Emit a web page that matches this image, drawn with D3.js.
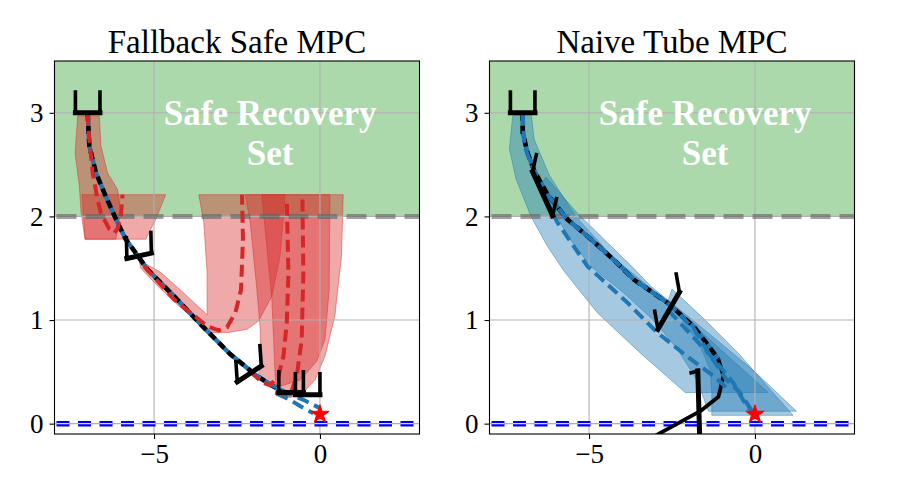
<!DOCTYPE html>
<html>
<head>
<meta charset="utf-8">
<script src="https://cdn.jsdelivr.net/npm/d3@7"></script>
<style>
    body { margin: 0; background: #fff; }
    svg { font-family: "Liberation Serif", "Times New Roman", serif; }
</style>
</head>
<body>
<div id="stage"></div>
<script>
var xDomain = [-8, 3];
var yDomain = [-0.1, 3.5];
var xTicks = [-5, 0];
var yTicks = [0, 1, 2, 3];
var panelTitles = ['Fallback Safe MPC', 'Naive Tube MPC'];
var safeSetLines = ['Safe Recovery', 'Set'];
var safeSetFloor = 2;
var groundLevel = 0;
var goal = [0, 0.09];

// left panel: fallback safe MPC
var leftTrajectory = [[-7.0, 3.0], [-6.95, 2.68], [-6.75, 2.42], [-6.45, 2.19], [-6.1, 1.94], [-5.85, 1.78],
    [-5.2, 1.49], [-4.4, 1.23], [-3.6, 0.96], [-2.7, 0.67], [-1.9, 0.46], [-1.1, 0.30], [-0.9, 0.28]];
var leftTubes = [
    [[-7.3, 2.97], [-6.65, 2.97], [-6.6, 2.68], [-6.4, 2.42], [-6.1, 2.26], [-6.0, 2.05], [-6.15, 1.78],
        [-7.08, 1.78], [-7.2, 2.04], [-7.25, 2.29], [-7.38, 2.61]],
    [[-7.17, 2.21], [-4.65, 2.21], [-4.95, 1.97], [-5.25, 1.78], [-7.08, 1.78]],
    [[-5.45, 1.58], [-4.8, 1.46], [-4.0, 1.23], [-3.4, 1.05], [-3.4, 1.45], [-3.5, 1.94], [-3.65, 2.21],
        [-1.05, 2.21], [-1.1, 2.0], [-1.2, 1.62], [-1.45, 1.23], [-1.85, 0.99], [-2.2, 0.91], [-2.75, 0.88],
        [-3.3, 0.88], [-4.2, 1.12], [-4.9, 1.33], [-5.4, 1.5]],
    [[-2.25, 2.21], [0.3, 2.21], [0.28, 1.3], [0.15, 0.81], [-0.1, 0.6], [-0.6, 0.42], [-1.2, 0.36],
        [-1.6, 0.37], [-1.9, 0.44], [-1.78, 0.55], [-1.8, 0.91], [-1.9, 1.29], [-2.1, 1.94]],
    [[-1.75, 2.21], [0.7, 2.21], [0.65, 1.62], [0.45, 1.04], [0.15, 0.65], [-0.15, 0.42], [-0.5, 0.3],
        [-0.9, 0.25], [-1.3, 0.3], [-1.35, 0.46], [-1.4, 0.84], [-1.45, 1.2]]
];
var leftFallbacks = [
    [[-7, 3], [-6.95, 2.74], [-6.85, 2.42], [-6.7, 2.16], [-6.6, 2.03], [-6.35, 1.88], [-6.2, 1.84],
        [-6.1, 1.88], [-6.0, 2.0], [-5.95, 2.21]],
    [[-5.3, 1.52], [-4.4, 1.2], [-3.4, 0.94], [-3.05, 0.9], [-2.8, 0.93], [-2.55, 1.07], [-2.38, 1.29],
        [-2.32, 1.78], [-2.35, 2.21]],
    [[-2.1, 0.5], [-1.75, 0.4], [-1.5, 0.37], [-1.25, 0.46], [-1.1, 0.65], [-1.0, 0.97], [-0.95, 1.45], [-1.0, 2.15]],
    [[-1.35, 0.3], [-1.1, 0.28], [-0.85, 0.32], [-0.7, 0.46], [-0.55, 0.81], [-0.5, 1.45], [-0.53, 2.21]]
];
var leftNominals = [
    [[-2.1, 0.5], [-1.5, 0.38], [-1.0, 0.3], [-0.5, 0.23], [0, 0.15]],
    [[-1.3, 0.29], [-0.9, 0.23], [-0.6, 0.17], [-0.2, 0.1]]
];
var leftDrones = [[-7, 3, 0], [-5.45, 1.62, 4], [-2.13, 0.48, 12], [-0.87, 0.3, 0], [-0.37, 0.28, 0]];

// right panel: naive tube MPC
var rightTrajectory = [[-7.0, 3.0], [-7.0, 2.81], [-6.85, 2.61], [-6.65, 2.44], [-6.25, 2.21], [-5.65, 1.97],
    [-5.05, 1.81], [-4.25, 1.58], [-3.65, 1.39], [-2.65, 1.17], [-1.85, 0.94], [-1.35, 0.73], [-1.1, 0.62]];
var rightCrash = [[-1.1, 0.62], [-0.95, 0.46], [-1.1, 0.26], [-1.65, 0.12], [-2.85, -0.09], [-3.4, -0.19]];
var rightTubes = [
    [[-7.3, 2.97], [-6.75, 3.0], [-6.65, 2.74], [-6.2, 2.4], [-5.4, 2.0], [-4.26, 1.6], [-3.0, 1.27],
        [-1.5, 0.85], [0.4, 0.3], [-2.1, 0.3], [-3.45, 0.68], [-4.75, 1.07], [-5.75, 1.47], [-6.25, 1.71],
        [-6.75, 2.0], [-7.2, 2.36], [-7.4, 2.65]],
    [[-6.45, 2.3], [-6.3, 2.38], [-5.35, 2.03], [-4.55, 1.78], [-3.75, 1.53], [-3.15, 1.33], [-1.5, 0.9],
        [0.0, 0.5], [1.25, 0.12], [-1.4, 0.12], [-1.75, 0.42], [-2.3, 0.7], [-3.0, 0.98], [-3.95, 1.26],
        [-4.95, 1.52], [-5.65, 1.81]],
    [[-2.65, 1.15], [-2.5, 1.3], [-1.5, 1.0], [-0.5, 0.68], [0.4, 0.35], [1.15, 0.08], [-1.3, 0.08],
        [-1.3, 0.3], [-1.35, 0.52], [-1.65, 0.75], [-2.35, 1.08]]
];
var rightNominals = [
    [[-7, 3], [-6.95, 2.68], [-6.45, 2.26], [-5.95, 1.94], [-5.05, 1.52], [-3.85, 1.17], [-2.95, 0.88],
        [-2.05, 0.65], [-1.25, 0.46], [-0.8, 0.33]],
    [[-6.25, 2.21], [-5.65, 1.97], [-5.05, 1.81], [-4.25, 1.58], [-3.65, 1.39], [-2.65, 1.17], [-1.85, 0.92],
        [-1.35, 0.66], [-0.85, 0.42], [-0.45, 0.3], [-0.25, 0.2], [-0.05, 0.1]],
    [[-2.6, 1.09], [-1.9, 0.85], [-1.15, 0.59], [-0.65, 0.39], [-0.25, 0.17], [0, 0.09]]
];
var rightDrones = [[-7, 3, 0], [-6.4, 2.22, -35], [-2.6, 1.09, 29], [-1.69, 0.14, 95]];
</script>
<script>
(function(d3) {
    'use strict';

    var panelLefts = [54.5, 489.5],
        panelTop = 61,
        panelWidth = 365,
        panelHeight = 373,
        droneHalf = 0.37,
        droneArm = 0.2,
        labelBaselines = [2.885, 2.5],
        svg,
        x,
        y,
        line,
        panels;

    svg = d3.select('#stage')
        .append('svg')
        .attr('width', 900)
        .attr('height', 500);

    x = d3.scaleLinear().domain(xDomain).range([0, panelWidth]);
    y = d3.scaleLinear().domain(yDomain).range([panelHeight, 0]);

    line = d3.line()
        .x(function(d) { return x(d[0]); })
        .y(function(d) { return y(d[1]); });

    panels = [
        { title: panelTitles[0], tubes: leftTubes, tubeColor: '#d62728', trajectory: leftTrajectory,
          dashed: [{ paths: leftNominals, color: '#1f77b4' }, { paths: leftFallbacks, color: '#d62728' }],
          drones: leftDrones, crash: null },
        { title: panelTitles[1], tubes: rightTubes, tubeColor: '#1f77b4', trajectory: rightTrajectory,
          dashed: [{ paths: rightNominals, color: '#1f77b4' }],
          drones: rightDrones, crash: rightCrash }
    ];

    function droneParts(d) {
        var t = d[2] * Math.PI / 180;
        function p(u, v) {
            return [d[0] + Math.cos(t) * u - Math.sin(t) * v, d[1] + Math.sin(t) * u + Math.cos(t) * v];
        }
        return {
            body: [p(-droneHalf, 0), p(droneHalf, 0)],
            arms: [[p(-droneHalf, droneArm), p(-droneHalf, 0)], [p(droneHalf, 0), p(droneHalf, droneArm)]]
        };
    }

    panels.forEach(function(panel, i) {
        var g, plot, clipId = 'clip' + i;

        g = svg.append('g')
            .attr('transform', 'translate(' + panelLefts[i] + ',' + panelTop + ')');

        g.append('clipPath')
            .attr('id', clipId)
            .append('rect')
            .attr('width', panelWidth)
            .attr('height', panelHeight);

        plot = g.append('g').attr('clip-path', 'url(#' + clipId + ')');

        // safe recovery set
        plot.append('rect')
            .attr('x', 0)
            .attr('y', y(yDomain[1]))
            .attr('width', panelWidth)
            .attr('height', y(safeSetFloor) - y(yDomain[1]))
            .style('fill', '#2ca02c')
            .style('fill-opacity', 0.4);

        plot.selectAll('.tube')
            .data(panel.tubes)
            .enter()
            .append('path')
            .attr('class', 'tube')
            .attr('d', function(d) { return line(d) + 'Z'; })
            .style('fill', panel.tubeColor)
            .style('fill-opacity', 0.4)
            .style('stroke', panel.tubeColor)
            .style('stroke-opacity', 0.45)
            .style('stroke-width', 1);

        // grid sits above patches, below lines
        plot.selectAll('.gx')
            .data(xTicks)
            .enter()
            .append('line')
            .attr('x1', function(d) { return x(d); })
            .attr('x2', function(d) { return x(d); })
            .attr('y1', 0)
            .attr('y2', panelHeight)
            .style('stroke', '#b0b0b0')
            .style('stroke-width', 1.1);

        plot.selectAll('.gy')
            .data(yTicks)
            .enter()
            .append('line')
            .attr('x1', 0)
            .attr('x2', panelWidth)
            .attr('y1', function(d) { return y(d); })
            .attr('y2', function(d) { return y(d); })
            .style('stroke', '#b0b0b0')
            .style('stroke-width', 1.1);

        plot.append('line')
            .attr('x1', 2).attr('x2', panelWidth)
            .attr('y1', y(safeSetFloor)).attr('y2', y(safeSetFloor))
            .style('stroke', '#606060')
            .style('stroke-opacity', 0.6)
            .style('stroke-width', 5)
            .style('stroke-dasharray', '20,9');

        plot.append('line')
            .attr('x1', 2).attr('x2', panelWidth - 6)
            .attr('y1', y(groundLevel)).attr('y2', y(groundLevel))
            .style('stroke', '#0000ff')
            .style('stroke-width', 5.5)
            .style('stroke-dasharray', '13,8.5');

        plot.append('line')
            .attr('x1', 2).attr('x2', panelWidth - 6)
            .attr('y1', y(groundLevel)).attr('y2', y(groundLevel))
            .style('stroke', '#ffffff')
            .style('stroke-opacity', 0.85)
            .style('stroke-width', 1.3)
            .style('stroke-dasharray', '13,8.5');

        if (panel.crash) {
            plot.append('path')
                .attr('d', line(panel.trajectory))
                .style('fill', 'none')
                .style('stroke', '#000')
                .style('stroke-width', 2.2);
            plot.append('path')
                .attr('d', line(panel.crash))
                .style('fill', 'none')
                .style('stroke', '#000')
                .style('stroke-width', 3.8)
                .style('stroke-linejoin', 'round');
        }

        plot.append('path')
            .attr('d', line(panel.trajectory))
            .style('fill', 'none')
            .style('stroke', '#1f77b4')
            .style('stroke-width', 4.5);

        plot.append('path')
            .attr('d', line(panel.trajectory))
            .style('fill', 'none')
            .style('stroke', '#000')
            .style('stroke-width', 4.5)
            .style('stroke-dasharray', '8,5');

        panel.dashed.forEach(function(set) {
            plot.selectAll(null)
                .data(set.paths)
                .enter()
                .append('path')
                .attr('d', line)
                .style('fill', 'none')
                .style('stroke', set.color)
                .style('stroke-width', 4)
                .style('stroke-dasharray', '12,6');
        });

        panel.drones.forEach(function(d) {
            var parts = droneParts(d);
            plot.append('path')
                .attr('d', line(parts.body))
                .style('stroke', '#000')
                .style('stroke-width', 5)
                .style('stroke-linecap', 'square');
            plot.selectAll(null)
                .data(parts.arms)
                .enter()
                .append('path')
                .attr('d', line)
                .style('stroke', '#000')
                .style('stroke-width', 3.6)
                .style('stroke-linecap', 'square');
        });

        plot.append('path')
            .attr('d', d3.symbol().type(d3.symbolStar).size(105))
            .attr('transform', 'translate(' + x(goal[0]) + ',' + y(goal[1]) + ')')
            .style('fill', '#ff0000')
            .style('stroke', '#ff0000')
            .style('stroke-width', 1);

        g.selectAll('.safe-label')
            .data(safeSetLines)
            .enter()
            .append('text')
            .attr('class', 'safe-label')
            .attr('x', x(-1.5))
            .attr('y', function(d, k) { return y(labelBaselines[k]); })
            .attr('text-anchor', 'middle')
            .style('font-size', '35px')
            .style('font-weight', 'bold')
            .style('fill', '#fff')
            .text(function(d) { return d; });

        // axes
        g.append('g')
            .attr('transform', 'translate(0,' + panelHeight + ')')
            .call(d3.axisBottom(x).tickValues(xTicks).tickFormat(d3.format('d'))
                .tickSize(5).tickSizeOuter(0).tickPadding(5))
            .call(function(a) { a.select('.domain').remove(); });

        g.append('g')
            .call(d3.axisLeft(y).tickValues(yTicks).tickFormat(d3.format('d'))
                .tickSize(5).tickSizeOuter(0).tickPadding(6))
            .call(function(a) { a.select('.domain').remove(); });

        g.selectAll('.tick text')
            .style('font-family', '"Liberation Serif", "Times New Roman", serif')
            .style('font-size', '27px')
            .style('fill', '#000');

        g.selectAll('.tick line')
            .style('stroke', '#000')
            .style('stroke-width', 1.1);

        g.append('rect')
            .attr('width', panelWidth)
            .attr('height', panelHeight)
            .style('fill', 'none')
            .style('stroke', '#000')
            .style('stroke-width', 1.1);

        g.append('text')
            .attr('x', panelWidth / 2)
            .attr('y', -8)
            .attr('text-anchor', 'middle')
            .style('font-size', '33px')
            .style('fill', '#000')
            .text(panel.title);
    });

})(window.d3);
</script>
</body>
</html>
